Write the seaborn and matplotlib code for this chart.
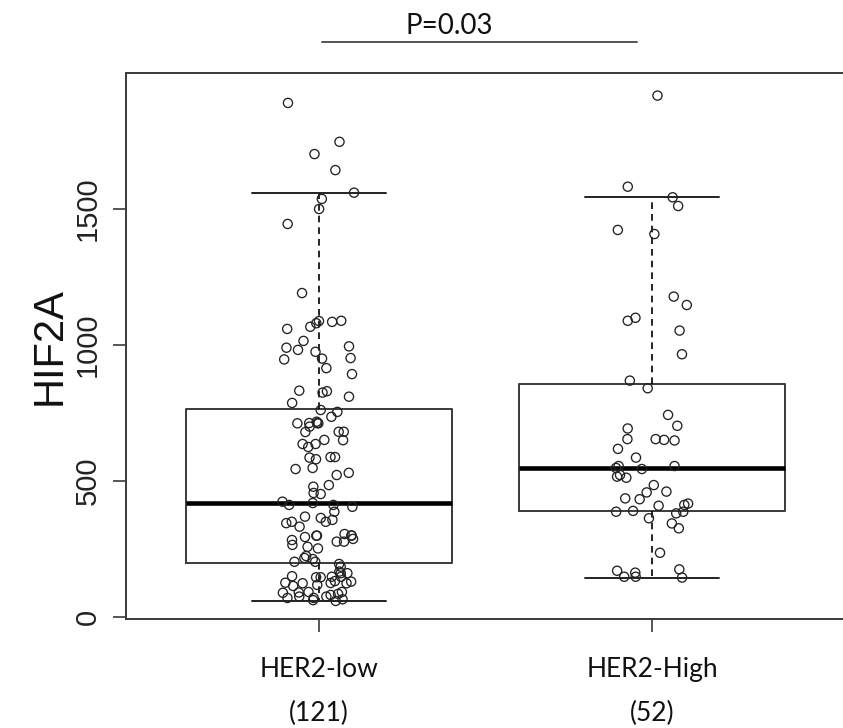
import numpy as np
import pandas as pd
import matplotlib
matplotlib.use("Agg")
import matplotlib.pyplot as plt
import seaborn as sns

# --- data ---
groups = ["HER2-low", "HER2-High"]
group_labels = ["HER2-low\n(121)", "HER2-High\n(52)"]

her2_low = [1890, 1747, 1702, 1643, 1560, 1537, 1500, 1445, 1191,
            1088, 1085, 1089, 1067, 1059, 1015,
            995, 982, 975, 952, 947,
            915, 893, 832, 825, 810, 787, 761, 754, 736,
            718, 712, 712, 700, 713, 713, 681, 681, 680,
            651, 636, 636, 625, 588, 586, 580, 588,
            548, 530, 544, 522, 479, 456, 485, 452,
            419, 424,
            412, 387, 364, 412, 405, 357, 345, 369, 350, 332,
            287, 299, 305, 299, 277, 283, 294, 299, 277, 252, 265, 258,
            224, 217, 203, 213, 203, 195, 185,
            146, 146, 167, 161, 148, 148, 130, 126, 124, 124, 118, 161, 132, 114,
            81, 70, 92, 92, 70, 75, 59, 65, 85, 89, 62,
            1080, 990, 950, 830, 650, 300, 350, 75, 125, 150, 90]

her2_high = [1917, 1582, 1543, 1511, 1423, 1408, 1178, 1147, 1100, 1089, 1053,
             966, 869, 841, 743, 703, 693,
             651, 649, 654, 654, 618, 586,
             555, 555, 548, 544, 522, 512, 516,
             485, 461, 458, 436, 433,
             409, 412, 417, 390, 387, 381, 387,
             363, 344, 326,
             236, 175, 170, 163, 148, 148, 145]

# box statistics (R-style hinges) as drawn in the reference
medians = [419, 548]
q1 = [199, 390]
q3 = [765, 857]
whis_lo = [59, 145]
whis_hi = [1560, 1543]

p_text = "P=0.03"

df = pd.DataFrame({
    "group": [groups[0]] * len(her2_low) + [groups[1]] * len(her2_high),
    "HIF2A": her2_low + her2_high,
})

sns.set_style("white")
plt.rcParams["font.family"] = ["Liberation Sans", "DejaVu Sans"]

W, H = 843, 728
fig = plt.figure(figsize=(W / 100, H / 100), dpi=100)
# right edge of the frame sits just past the picture edge, as in the reference
ax = fig.add_axes([126 / W, 1 - 619 / H, (845 - 126) / W, (619 - 73) / H])

stats = []
for i in range(2):
    stats.append({"med": medians[i], "q1": q1[i], "q3": q3[i],
                  "whislo": whis_lo[i], "whishi": whis_hi[i], "label": groups[i]})

edge = "#3a3a3a"
ax.bxp(stats, positions=[0, 1], widths=0.8, capwidths=0.4, showfliers=False,
       manage_ticks=False,
       boxprops=dict(color=edge, linewidth=1.4),
       medianprops=dict(color="black", linewidth=3.3, solid_capstyle="butt"),
       whiskerprops=dict(color="black", linewidth=1.2, linestyle=(0, (4, 3))),
       capprops=dict(color="#222222", linewidth=1.4))

np.random.seed(7)
sns.stripplot(data=df, x="group", y="HIF2A", order=groups, jitter=0.11,
              size=6.6, linewidth=0.95, ax=ax, zorder=3)
for c in ax.collections:
    c.set_facecolor("none")
    c.set_edgecolor("#222222")

ax.set_xlim(-0.5796, 1.5796)
ax.set_ylim(-7.4, 2000)

ax.set_yticks([0, 500, 1000, 1500])
ax.set_yticklabels(["0", "500", "1000", "1500"], rotation=90, va="center",
                   fontsize=21, color="#222222")
ax.set_xticks([0, 1])
ax.set_xticklabels(group_labels, fontsize=19, family=["Lato", "DejaVu Sans"],
                   linespacing=1.93, color="#111111")
ax.tick_params(axis="both", direction="out", length=9.5, width=1.2, color=edge)
ax.tick_params(axis="y", pad=8, left=True)
ax.tick_params(axis="x", pad=18, bottom=True)
ax.set_xlabel("")
ax.set_ylabel("")

for s in ["left", "top", "bottom", "right"]:
    ax.spines[s].set_visible(True)
    ax.spines[s].set_color(edge)
    ax.spines[s].set_linewidth(1.4)

fig.text(50 / W, 1 - 346 / H, "HIF2A", rotation=90, ha="center", va="center",
         fontsize=30, color="#111111")

# significance bar above the frame
trans = ax.get_xaxis_transform()
ax.plot([0.01, 0.955], [1.0568, 1.0568], color="#555555", linewidth=1.4,
        transform=trans, clip_on=False)
ax.text(0.39, 1.0714, p_text, transform=trans, ha="center", va="baseline",
        fontsize=20, family=["Lato", "DejaVu Sans"], color="#111111")

fig.savefig("out.png", dpi=100)
